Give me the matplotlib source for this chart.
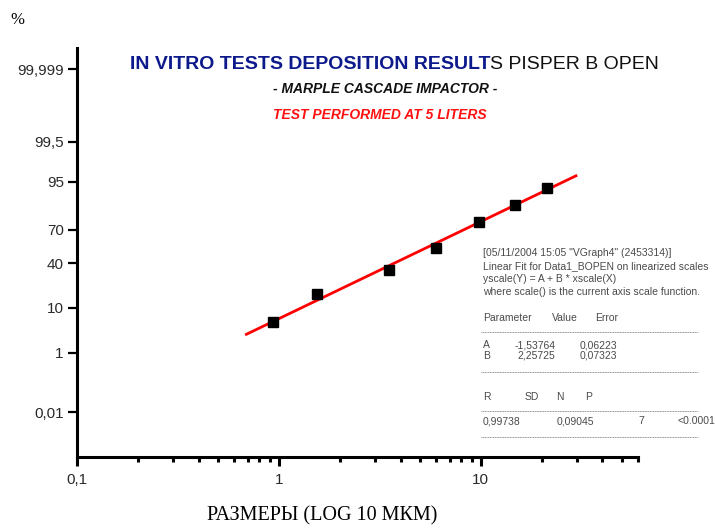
import math
import numpy as np
import matplotlib
matplotlib.use("Agg")
import matplotlib.pyplot as plt
from matplotlib.lines import Line2D

# ---------------- data ----------------
size_um = [0.93, 1.55, 3.5, 6.0, 9.8, 14.8, 21.3]          # cut-off diameters
cum_pct = [5.2, 16.6, 34.1, 54.1, 76.2, 86.6, 93.4]         # cumulative % undersize
fit_A = -1.53764
fit_B = 2.25725
fit_range = [0.68, 30.0]

y_ticks = [0.01, 1, 10, 40, 70, 95, 99.5, 99.999]
y_tick_labels = ["0,01", "1", "10", "40", "70", "95", "99,5", "99,999"]
x_ticks = [0.1, 1, 10]
x_tick_labels = ["0,1", "1", "10"]

W, H = 715, 529

# ---------------- probit scale helpers ----------------
_a = [-3.969683028665376e+01, 2.209460984245205e+02, -2.759285104469687e+02,
      1.383577518672690e+02, -3.066479806614716e+01, 2.506628277459239e+00]
_b = [-5.447609879822406e+01, 1.615858368580409e+02, -1.556989798598866e+02,
      6.680131188771972e+01, -1.328068155288572e+01]
_c = [-7.784894002430293e-03, -3.223964580411365e-01, -2.400758277161838e+00,
      -2.549732539343734e+00, 4.374664141464968e+00, 2.938163982698783e+00]
_d = [7.784695709041462e-03, 3.224671290700398e-01, 2.445134137142996e+00,
      3.754408661907416e+00]


def ndtri(p):
    p = np.clip(np.asarray(p, dtype=float), 1e-15, 1 - 1e-15)
    out = np.empty_like(p)
    plow = 0.02425
    lo = p < plow
    hi = p > 1 - plow
    mid = ~(lo | hi)
    if np.any(lo):
        q = np.sqrt(-2 * np.log(p[lo]))
        out[lo] = (((((_c[0]*q+_c[1])*q+_c[2])*q+_c[3])*q+_c[4])*q+_c[5]) / \
                  ((((_d[0]*q+_d[1])*q+_d[2])*q+_d[3])*q+1)
    if np.any(hi):
        q = np.sqrt(-2 * np.log(1 - p[hi]))
        out[hi] = -(((((_c[0]*q+_c[1])*q+_c[2])*q+_c[3])*q+_c[4])*q+_c[5]) / \
                   ((((_d[0]*q+_d[1])*q+_d[2])*q+_d[3])*q+1)
    if np.any(mid):
        q = p[mid] - 0.5
        r = q * q
        out[mid] = (((((_a[0]*r+_a[1])*r+_a[2])*r+_a[3])*r+_a[4])*r+_a[5])*q / \
                   (((((_b[0]*r+_b[1])*r+_b[2])*r+_b[3])*r+_b[4])*r+1)
    return out


_erfc = np.vectorize(math.erfc)


def ndtr(z):
    z = np.asarray(z, dtype=float)
    return 0.5 * _erfc(-z / math.sqrt(2))


def fwd(pct):
    return ndtri(np.asarray(pct, dtype=float) / 100.0)


def inv(z):
    return ndtr(z) * 100.0


# ---------------- figure ----------------
fig = plt.figure(figsize=(W / 100, H / 100), dpi=100)
ax = fig.add_axes([77 / W, 1 - 457 / H, (638 - 77) / W, (457 - 48) / H])

ax.set_xscale("log")
ax.set_yscale("function", functions=(fwd, inv))
ax.set_xlim(0.1, 60)
ax.set_ylim(1e-4, 99.9999)

# fit line (straight line in the linearised scales)
fx = np.array(fit_range)
fy = inv(fit_A + fit_B * np.log10(fx))
ax.plot(fx, fy, color="#ff0000", lw=2.0, solid_capstyle="butt", zorder=2)
ax.plot(size_um, cum_pct, linestyle="none", marker="s", color="black",
        markersize=7, zorder=3)

for s in ["top", "right"]:
    ax.spines[s].set_visible(False)
for s in ["left", "bottom"]:
    ax.spines[s].set_linewidth(2.2)

tick_color = "#2a2a2a"
ax.set_yticks(y_ticks)
ax.set_yticklabels(y_tick_labels)
ax.yaxis.set_minor_locator(matplotlib.ticker.NullLocator())
ax.set_xticks(x_ticks)
ax.set_xticklabels(x_tick_labels)
minor_x = [k * 10.0 ** e for e in (-1, 0, 1) for k in range(2, 10)]
minor_x = [v for v in minor_x if v <= 60]
ax.set_xticks(minor_x, minor=True)
ax.xaxis.set_minor_formatter(matplotlib.ticker.NullFormatter())

ax.tick_params(axis="y", which="major", direction="out", length=6.5, width=1.6,
               pad=3, labelsize=11, labelcolor=tick_color,
               labelfontfamily="Liberation Sans")
ax.tick_params(axis="x", which="major", direction="out", length=6.5, width=2.2,
               pad=5, labelsize=11, labelcolor=tick_color,
               labelfontfamily="Liberation Sans")
ax.tick_params(axis="x", which="minor", direction="out", length=3.5, width=2.2)

# ---------------- texts ----------------
def fx_(px):
    return px / W


def fy_(py):
    return 1 - py / H


fig.text(fx_(10), fy_(24), "%", family="Liberation Serif", fontsize=12,
         color="black", va="baseline", ha="left")

t1 = fig.text(fx_(130), fy_(69), "IN VITRO TESTS DEPOSITION RESULT",
              family="Liberation Sans", fontweight="bold", fontsize=14,
              color="#0d1a8c", va="baseline", ha="left")
fig.canvas.draw()
bb = t1.get_window_extent()
fig.text(bb.x1 / fig.bbox.width, fy_(69), "S PISPER B OPEN",
         family="Liberation Sans", fontsize=14, color="#111111",
         va="baseline", ha="left")

fig.text(fx_(273), fy_(93), "- MARPLE CASCADE IMPACTOR -",
         family="Liberation Sans", fontweight="bold", style="italic",
         fontsize=10, color="#111111", va="baseline", ha="left")
fig.text(fx_(273), fy_(119), "TEST PERFORMED AT 5 LITERS",
         family="Liberation Sans", fontweight="bold", style="italic",
         fontsize=10, color="#ff1010", va="baseline", ha="left")

fig.text(fx_(322), fy_(520), "РАЗМЕРЫ (LOG 10 МКМ)", family="Liberation Serif",
         fontsize=14.5, color="black", va="baseline", ha="center")

# fit report block
rep_color = "#4a4a4a"
rep_fs = 7.5


def rep(px, py, s):
    fig.text(fx_(px), fy_(py), s, family="Liberation Sans", fontsize=rep_fs,
             color=rep_color, va="center", ha="left")


rep(483, 253, '[05/11/2004 15:05 "VGraph4" (2453314)]')
rep(483, 266, "Linear Fit for Data1_BOPEN on linearized scales")
rep(483, 279, "yscale(Y) = A + B * xscale(X)")
rep(483, 292, "where scale() is the current axis scale function.")
rep(483, 318, "Parameter")
rep(552, 318, "Value")
rep(595, 318, "Error")
rep(483, 345, "A")
rep(515, 345, "-1,53764")
rep(580, 345, "0,06223")
rep(483, 356, "B")
rep(517, 356, "2,25725")
rep(580, 356, "0,07323")
rep(483, 397, "R")
rep(525, 397, "SD")
rep(556, 397, "N")
rep(585, 397, "P")
rep(483, 421, "0,99738")
rep(557, 421, "0,09045")
rep(638, 421, "7")
rep(678, 421, "<0.0001")

for py in (332, 372, 411, 437):
    fig.add_artist(Line2D([fx_(481), fx_(698)], [fy_(py), fy_(py)],
                          transform=fig.transFigure, color="#777777",
                          lw=0.6, linestyle=(0, (1.2, 0.8))))

fig.savefig("out.png", dpi=100)
